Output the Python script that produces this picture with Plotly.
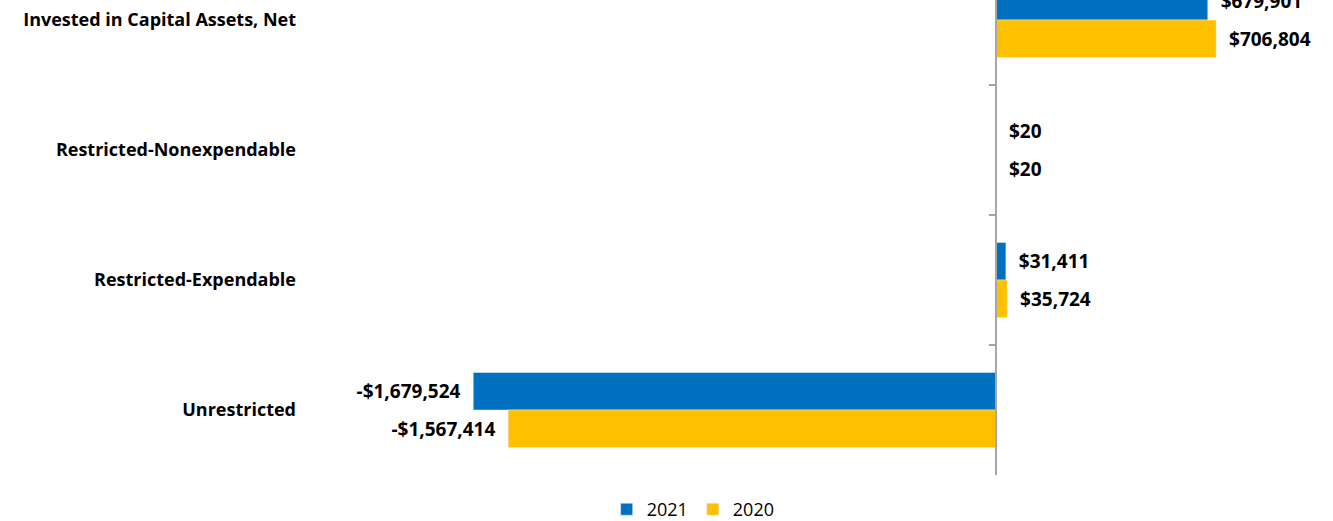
import plotly.graph_objects as go

# dados (em dólares)
categorias = ["Invested in Capital Assets, Net", "Restricted-Nonexpendable",
              "Restricted-Expendable", "Unrestricted"]
valores_2021 = [679901, 20, 31411, -1679524]
valores_2020 = [706804, 20, 35724, -1567414]

azul = "#0070C0"
amarelo = "#FFC000"
fonte = "Open Sans"

x_min, x_max = -2220000, 1050000


# rótulo com espaço entre a barra e o texto
def rotulo(v):
    if v < 0:
        return f"-${abs(v):,}\u00a0\u00a0"
    return f"\u00a0\u00a0${v:,}"


fig = go.Figure()
for nome, valores, cor in [("2021", valores_2021, azul), ("2020", valores_2020, amarelo)]:
    fig.add_trace(go.Bar(
        y=categorias,
        x=valores,
        name=nome,
        orientation="h",
        marker_color=cor,
        text=[rotulo(v) for v in valores],
        textposition="outside",
        textfont=dict(family=fonte, size=19, color="black", weight="bold"),
        cliponaxis=False,
    ))

# traço invisível só para ativar o eixo y2 (linha no zero)
fig.add_trace(go.Scatter(
    y=categorias, x=[0] * len(categorias), yaxis="y2",
    mode="markers", marker_opacity=0, showlegend=False, hoverinfo="skip",
))

fig.update_layout(
    width=1333,
    height=521,
    margin=dict(l=305, r=10, t=0, b=46),
    barmode="group",
    bargap=0.423,
    bargroupgap=0,
    plot_bgcolor="white",
    paper_bgcolor="white",
    xaxis=dict(range=[x_min, x_max], visible=False, automargin=False),
    yaxis=dict(
        type="category",
        categoryorder="array",
        categoryarray=categorias,
        range=[3.5, -0.154],
        showline=False,
        showgrid=False,
        ticks="",
        ticklabelstandoff=8,
        automargin=False,
        tickfont=dict(family=fonte, size=18, color="black", weight="bold"),
    ),
    # eixo vertical cruzando no zero, com marcas entre as categorias
    yaxis2=dict(
        overlaying="y",
        matches="y",
        anchor="free",
        position=(0 - x_min) / (x_max - x_min),
        showline=True,
        linecolor="#A6A6A6",
        linewidth=1.5,
        ticks="outside",
        tickson="boundaries",
        ticklen=6,
        tickcolor="#A6A6A6",
        tickwidth=1.5,
        showticklabels=False,
        showgrid=False,
        automargin=False,
    ),
    legend=dict(
        orientation="h",
        xref="container", x=0.52, xanchor="center",
        yref="container", y=0.022, yanchor="middle",
        font=dict(family=fonte, size=18, color="black"),
        traceorder="normal",
    ),
)

# tira a margem padrão da página para a figura começar no canto
fig.write_html("out.html", config={"displayModeBar": False},
               post_script="document.body.style.margin='0';")
